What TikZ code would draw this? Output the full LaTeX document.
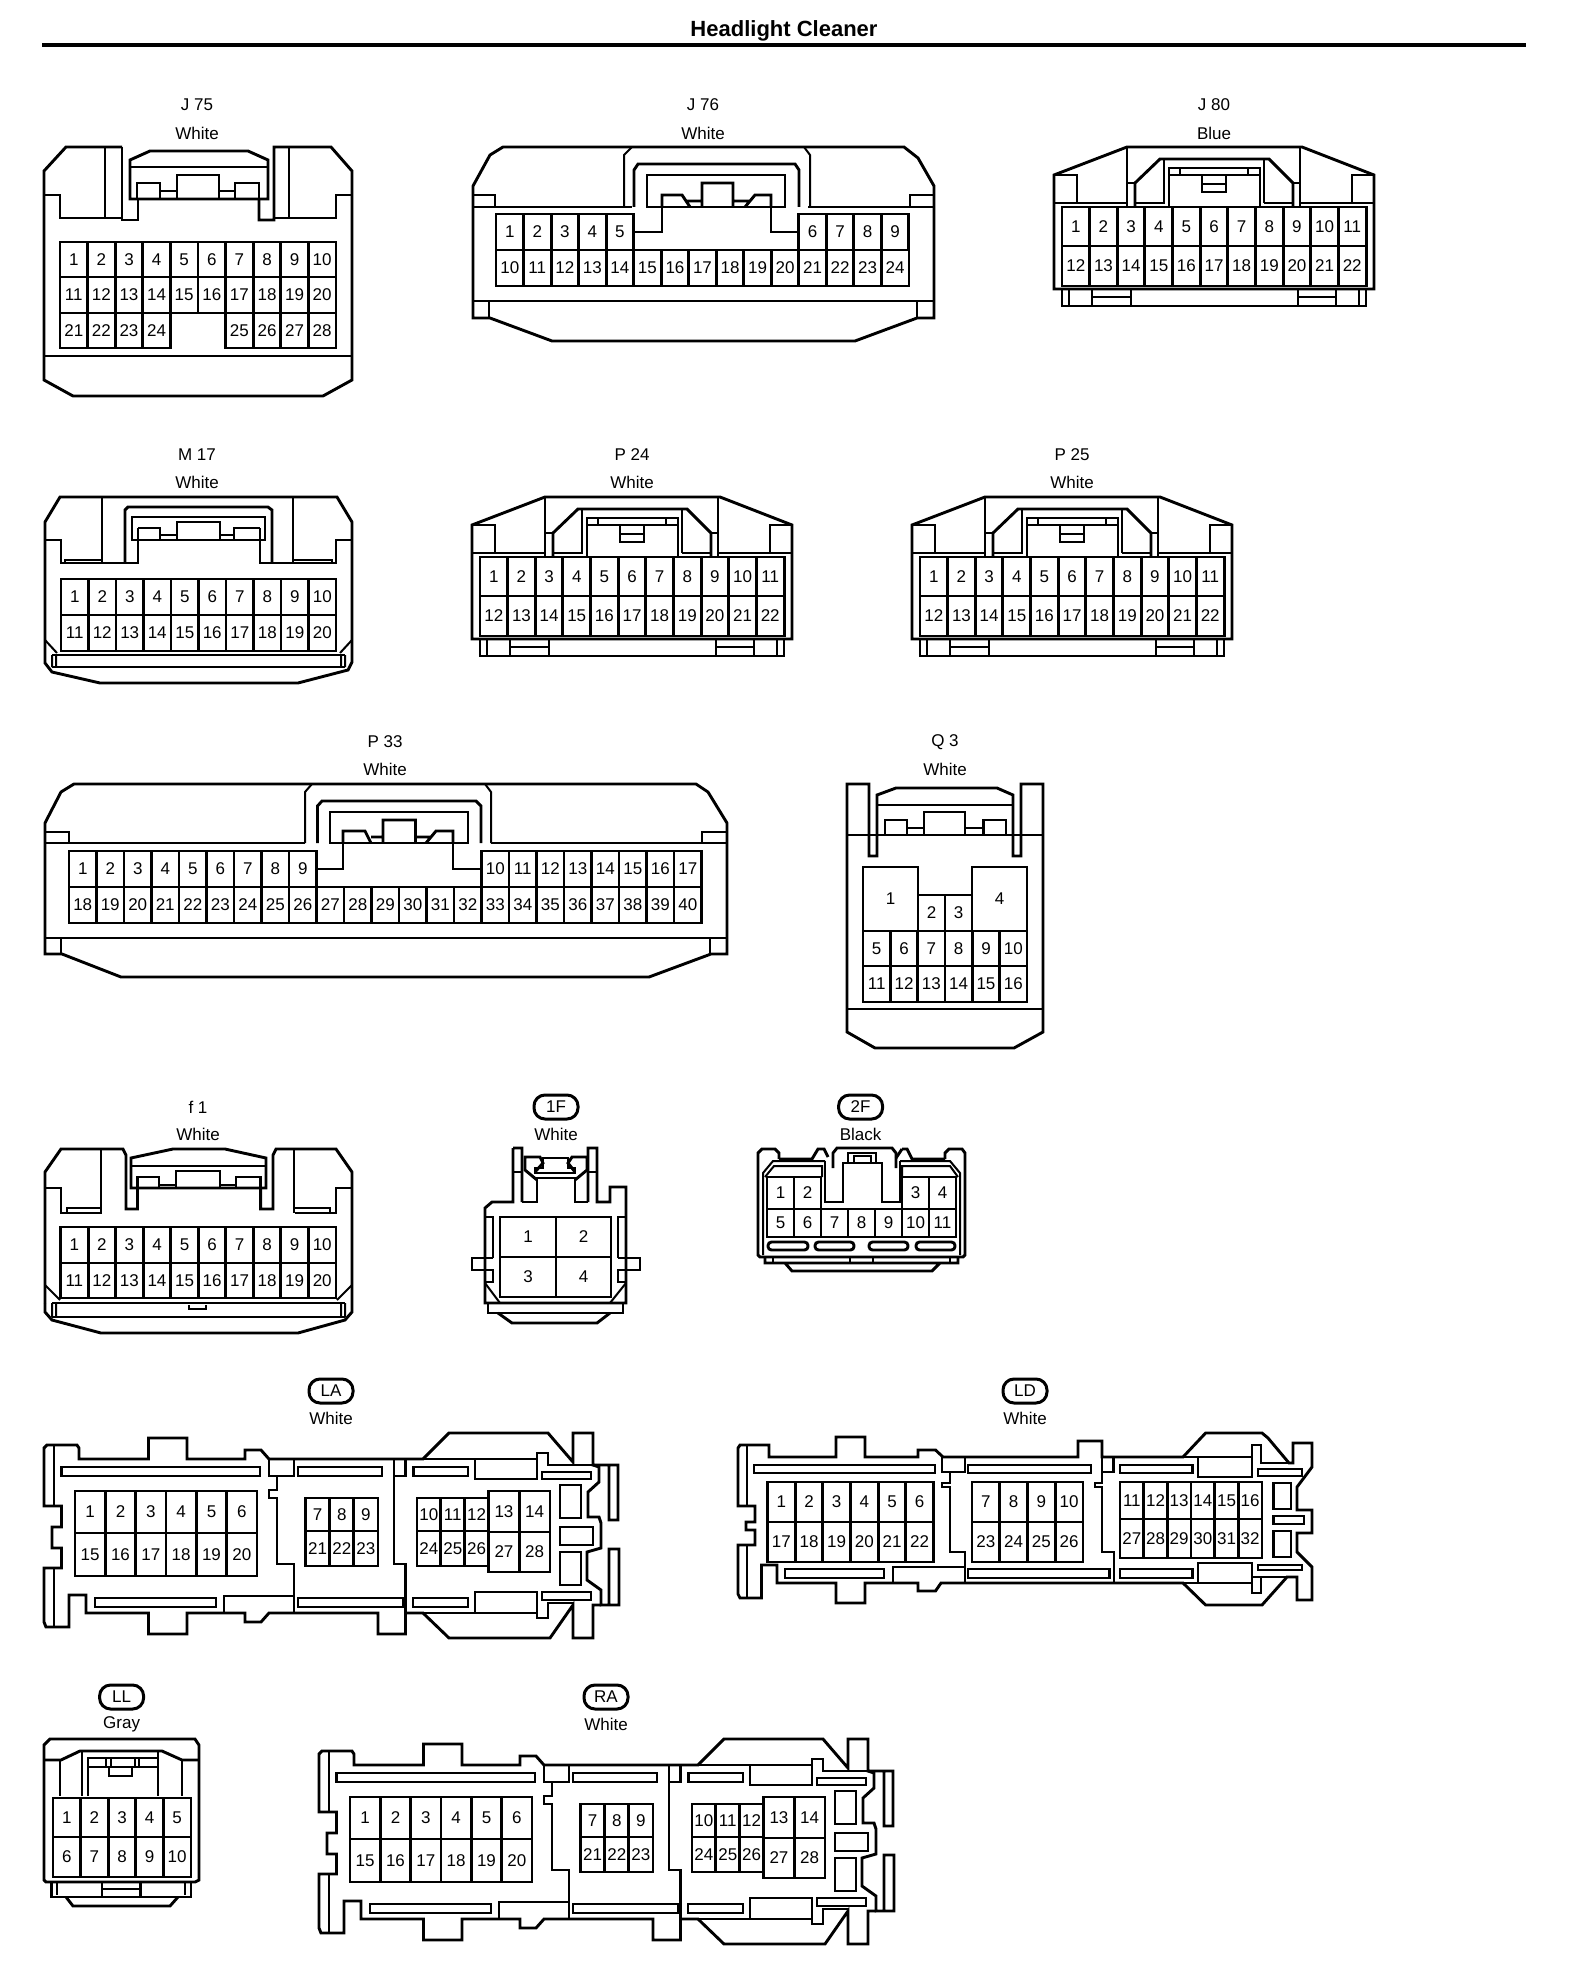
\documentclass[tikz,border=0pt]{standalone}
\usepackage{fontspec}
\setmainfont{Liberation Sans}
\tikzset{
 ol/.style={line width=2.9pt,line join=miter,line cap=butt,black},
 th/.style={line width=2pt,black},
 pinbox/.style={line width=2.9pt,black},
 pinnum/.style={inner sep=0pt,font=\fontsize{17}{17}\selectfont},
 lab/.style={inner sep=0pt,font=\fontsize{17}{17}\selectfont},
 tagoval/.style={draw,line width=3pt,rounded corners=11pt,minimum width=44pt,minimum height=24pt,inner sep=0pt,font=\fontsize{17}{17}\selectfont},
}
% prefix, x0, pitch, y1, y2, first number, count
\newcommand{\pins}[7]{%
 \foreach \i in {1,...,#7}{%
  \pgfmathsetmacro\xa{#2+(\i-1)*#3}%
  \pgfmathsetmacro\xb{\xa+#3}%
  \pgfmathsetmacro\xm{\xa+#3/2}%
  \pgfmathsetmacro\ym{(#4+#5)/2}%
  \pgfmathtruncatemacro\nn{#6+\i-1}%
  \draw[pinbox] (\xa,#4) rectangle (\xb,#5);
  \node[pinnum] (#1-\nn) at (\xm,\ym) {\nn};
 }}
% single pin: name, x1,y1,x2,y2,text
\newcommand{\onepin}[6]{%
  \pgfmathsetmacro\xm{(#2+#4)/2}\pgfmathsetmacro\ym{(#3+#5)/2}%
  \draw[pinbox] (#2,#3) rectangle (#4,#5);
  \node[pinnum] (#1) at (\xm,\ym) {#6};}
% J80-type connector
\newcommand{\typeA}[1]{%
 \draw[ol] (1054,175)--(1127,147)--(1302,147)--(1374,175)--(1374,289)--(1054,289)--cycle;
 \draw[ol] (1062,289)--(1062,306)--(1366,306)--(1366,289);
 \draw[th] (1069,289)--(1069,306) (1359,289)--(1359,306);
 \draw[ol] (1092,289)--(1092,306) (1131,289)--(1131,306) (1298,289)--(1298,306) (1336,289)--(1336,306);
 \draw[ol] (1092,297)--(1131,297) (1298,297)--(1336,297);
 \draw[ol] (1054,175)--(1077,175)--(1077,203) (1374,175)--(1352,175)--(1352,203);
 \draw[ol] (1054,203)--(1127,203) (1301,203)--(1374,203);
 \draw[ol] (1127,147)--(1127,207) (1300,147)--(1300,207);
 \draw[ol] (1135,207)--(1135,183)--(1160,159)--(1269,159)--(1293,183)--(1293,207);
 \draw[ol] (1127,183)--(1135,183) (1293,183)--(1300,183);
 \draw[ol] (1164,159)--(1164,203) (1264,159)--(1264,203);
 \draw[ol] (1169,168)--(1260,168)--(1260,207)--(1169,207)--cycle;
 \draw[ol] (1169,175)--(1260,175) (1180,168)--(1180,175) (1248,168)--(1248,175);
 \draw[ol] (1202,175)--(1202,192)--(1226,192)--(1226,175) (1202,184)--(1226,184);
 \draw[ol] (1135,203)--(1165,203) (1264,203)--(1293,203);
}
% LA/RA-type housing
\newcommand{\typeB}{%
 \draw[ol] (44,1448)--(47,1445)--(77,1445)--(79,1448)--(79,1459)--(148.5,1459)--(148.5,1438)--(187,1438)--(187,1459)--(245,1459)--(245,1450)--(261,1450)--(269,1459)--(423,1459)--(449,1433)--(548,1433)--(554,1440)--(573,1462)--(573,1433)--(593,1433)--(593,1465)--(609,1465)--(618,1465)--(618,1520)--(609,1520)--(609,1465);
 \draw[ol] (593,1465)--(599,1467)--(599,1482)--(588,1492)--(588,1517)--(599,1517)--(601,1523)--(601,1548)--(587,1552)--(587,1580)--(601,1590)--(601,1605)--(619,1605)--(619,1549)--(609,1549)--(609,1605);
 \draw[ol] (601,1605)--(593,1605)--(593,1638)--(573,1638)--(573,1605)--(550,1638)--(449,1638)--(423,1613)--(405.5,1613)--(405.5,1634)--(378,1634)--(378,1613)--(269,1613)--(261,1622)--(245,1622)--(245,1613)--(187,1613)--(187,1634)--(148.5,1634)--(148.5,1613)--(86,1613)--(86,1595)--(69,1595)--(69,1627)--(46,1627)--(44,1622)--(44,1568)--(61.5,1568)--(61.5,1548)--(52,1548)--(52,1527)--(61.5,1527)--(61.5,1506)--(44,1506)--(44,1447);
 \draw[ol] (423,1459)--(537,1459) (423,1613)--(537,1613);
 \draw[th] (54,1446)--(54,1506) (54,1568)--(54,1627);
 \draw[ol] (61.5,1467) rectangle (260,1476) (298,1467) rectangle (382,1476) (413.5,1467) rectangle (468,1476) (542,1472) rectangle (591,1479);
 \draw[ol] (475,1459)--(475,1479)--(537,1479)--(537,1459);
 \draw[ol] (537,1459)--(537,1453)--(548,1453)--(548,1465)--(593,1465);
 \draw[ol] (269,1459)--(269,1476)--(294,1476)--(294,1459);
 \draw[ol] (277,1476)--(277,1490)--(269,1490)--(269,1498)--(277,1498)--(277,1564)--(294,1564)--(294,1613);
 \draw[ol] (394,1459)--(394,1564)--(405.5,1564)--(405.5,1613);
 \draw[ol] (394,1476)--(405.5,1476)--(405.5,1459);
 \draw[ol] (95,1598) rectangle (216,1607) (298,1598) rectangle (403,1607) (413,1598) rectangle (468,1607) (542,1592) rectangle (591,1600);
 \draw[ol] (224,1613)--(224,1596)--(294,1596);
 \draw[ol] (475,1613)--(475,1592)--(537,1592)--(537,1613);
 \draw[ol] (537,1613)--(537,1618)--(548,1618)--(548,1603)--(574,1603);
 \draw[ol] (560,1485) rectangle (581,1518) (560,1527) rectangle (593,1545) (560,1552) rectangle (581,1585);
}
\begin{document}
\begin{tikzpicture}[x=1pt,y=-1pt]
\useasboundingbox (0,0) rectangle (1568,1964);
\fill[white] (0,0) rectangle (1568,1964);
\node[inner sep=0pt,font=\fontsize{22}{22}\selectfont\bfseries] (title) at (784,31) {Headlight Cleaner};
\coordinate (rulea) at (42,45); \coordinate (ruleb) at (1526,45);
\draw[line width=3.4pt] (rulea)--(ruleb);

%% J75
\node[lab] (j75a) at (197,105) {J 75}; \node[lab] (j75b) at (197,133) {White};
\draw[ol] (122,147)--(66,147)--(44,171)--(44,380)--(73,396)--(323,396)--(352,380)--(352,171)--(331,147)--(274,147)--(274,220)--(259,220)--(259,199);
\draw[ol] (122,147)--(122,220)--(138,220)--(138,199);
\draw[th] (105,147)--(105,218) (289,147)--(289,218);
\draw[ol] (44,195)--(60,195)--(60,218)--(122,218) (352,195)--(336,195)--(336,218)--(274,218);
\draw[ol] (130,199)--(130,160)--(150,151)--(248,151)--(268,160)--(268,199)--cycle;
\draw[ol] (130,167)--(268,167);
\draw[ol] (137,199)--(137,183)--(160,183)--(160,199) (160,191)--(177,191) (177,199)--(177,175)--(219,175)--(219,199) (219,191)--(235,191) (235,199)--(235,183)--(259,183)--(259,199);
\draw[ol] (44,356)--(352,356);
\pins{j75}{60}{27.6}{242}{277}{1}{10}
\pins{j75}{60}{27.6}{277}{313}{11}{10}
\pins{j75}{60}{27.6}{313}{348}{21}{4}
\pins{j75}{225.6}{27.6}{313}{348}{25}{4}

%% J76
\node[lab] (j76a) at (703,105) {J 76}; \node[lab] (j76b) at (703,133) {White};
\draw[ol] (473,318)--(473,186)--(490,155)--(503,147)--(904,147)--(918,158)--(934,186)--(934,318)--(917,318)--(855,341)--(552,341)--(490,318)--cycle;
\draw[ol] (473,301)--(934,301) (489,301)--(489,318) (917,301)--(917,318);
\draw[ol] (473,207)--(632,207) (808,207)--(934,207);
\draw[ol] (473,195)--(495,195)--(495,207) (934,195)--(910,195)--(910,207);
\draw[th] (624,207)--(624,155)--(632,147) (810,207)--(810,155)--(804,147);
\draw[ol] (634,207)--(634,170)--(638,164)--(795,164)--(799,170)--(799,207);
\draw[ol] (647,175)--(785,175)--(785,207)--(647,207)--cycle;
\draw[ol] (662,207)--(662,195)--(682,195)--(690,207) (686,201)--(702,201) (702,207)--(702,183)--(733,183)--(733,207) (733,201)--(750,201) (745,207)--(755,195)--(771,195)--(771,207);
\draw[ol] (662,207)--(662,232)--(635,232) (771,207)--(771,232)--(800,232);
\pins{j76}{496}{27.53}{214}{250}{1}{5}
\pins{j76}{798.8}{27.53}{214}{250}{6}{4}
\pins{j76}{496}{27.53}{250}{286}{10}{15}

%% J80
\node[lab] (j80a) at (1214,105) {J 80}; \node[lab] (j80b) at (1214,133) {Blue};
\typeA{}
\pins{j80}{1062}{27.64}{207}{246}{1}{11}
\pins{j80}{1062}{27.64}{246}{286}{12}{11}

%% M17
\node[lab] (m17a) at (197,455) {M 17}; \node[lab] (m17b) at (197,482) {White};
\draw[ol] (45,640)--(45,522)--(60,497)--(337,497)--(352,522)--(352,662)--(348,670)--(298,683)--(100,683)--(52,672)--(45,663)--cycle;
\draw[ol] (45,540)--(61,540)--(61,563)--(138,563)--(138,528) (352,540)--(336,540)--(336,563)--(260,563)--(260,528);
\draw[th] (102,497)--(102,563) (293,497)--(293,563);
\draw[ol] (125,563)--(125,510)--(128,507)--(268,507)--(272,510)--(272,563);
\draw[ol] (132,517)--(265,517)--(265,540)--(132,540)--cycle;
\draw[ol] (138,528)--(160,528)--(160,540) (160,535)--(177,535) (177,540)--(177,522)--(220,522)--(220,540) (220,535)--(234,535) (234,540)--(234,528)--(260,528);
\draw[th] (65,563)--(65,560)--(102,560) (293,560)--(332,560)--(332,563);
\pins{m17}{61}{27.5}{579}{615}{1}{10}
\pins{m17}{61}{27.5}{615}{651}{11}{10}
\draw[ol] (52,655)--(345,655) (52,667)--(345,667);
\draw[th] (45,640)--(57,653) (352,640)--(340,653) (52,655)--(52,667) (56,655)--(56,667) (341,655)--(341,667) (345,655)--(345,667);

%% P24 / P25
\node[lab] (p24a) at (632,455) {P 24}; \node[lab] (p24b) at (632,482) {White};
\begin{scope}[shift={(-582,350)}]
\typeA{}
\pins{p24}{1062}{27.64}{207}{246}{1}{11}
\pins{p24}{1062}{27.64}{246}{286}{12}{11}
\end{scope}
\node[lab] (p25a) at (1072,455) {P 25}; \node[lab] (p25b) at (1072,482) {White};
\begin{scope}[shift={(-142,350)}]
\typeA{}
\pins{p25}{1062}{27.64}{207}{246}{1}{11}
\pins{p25}{1062}{27.64}{246}{286}{12}{11}
\end{scope}

%% P33
\node[lab] (p33a) at (385,742) {P 33}; \node[lab] (p33b) at (385,769) {White};
\draw[ol] (45,954)--(45,823)--(61,792)--(74,784)--(696,784)--(708,792)--(727,823)--(727,954)--(711,954)--(649,977)--(121,977)--(62,954)--cycle;
\draw[ol] (45,938)--(727,938) (61,938)--(61,954) (710,938)--(710,954);
\draw[ol] (45,843)--(305,843) (491,843)--(727,843);
\draw[ol] (45,832)--(69,832)--(69,843) (727,832)--(702,832)--(702,843);
\draw[th] (305,843)--(305,792)--(312,784) (491,843)--(491,792)--(485,784);
\draw[ol] (317.5,843)--(317.5,806)--(322,801)--(476,801)--(481,806)--(481,843);
\draw[ol] (330,812)--(468,812)--(468,843)--(330,843)--cycle;
\draw[ol] (343,843)--(343,831)--(365,831)--(371,843) (371,837)--(383,837) (383,843)--(383,820)--(415.5,820)--(415.5,843) (415.5,837)--(430,837) (426,843)--(436,831)--(453,831)--(453,843);
\draw[ol] (343,843)--(343,869)--(317.5,869) (453,843)--(453,869)--(481,869);
\pins{p33}{69}{27.5}{851}{887}{1}{9}
\pins{p33}{481.5}{27.5}{851}{887}{10}{8}
\pins{p33}{69}{27.5}{887}{923}{18}{23}

%% Q3
\node[lab] (q3a) at (945,742) {Q 3}; \node[lab] (q3b) at (945,769) {White};
\draw[ol] (869,784)--(847,784)--(847,1032)--(875,1048)--(1014,1048)--(1043,1032)--(1043,784)--(1021,784)--(1021,856)--(1013,856)--(1013,795)--(997,788)--(896,788)--(877,795)--(877,856)--(869,856)--cycle;
\draw[ol] (877,805)--(1013,805) (847,835)--(1043,835);
\draw[ol] (885,835)--(885,820)--(907,820)--(907,835) (907,828)--(924,828) (924,835)--(924,812)--(965,812)--(965,835) (965,828)--(983.5,828) (983.5,835)--(983.5,820)--(1006,820)--(1006,835);
\draw[ol] (847,1009)--(1043,1009);
\onepin{q3-1}{863}{867}{918}{931}{1}
\onepin{q3-4}{972}{867}{1027}{931}{4}
\onepin{q3-2}{918}{895}{945}{931}{2}
\onepin{q3-3}{945}{895}{972}{931}{3}
\pins{q3}{863}{27.33}{931}{966}{5}{6}
\pins{q3}{863}{27.33}{966}{1002}{11}{6}

%% f1
\node[lab] (f1a) at (198,1107) {f 1}; \node[lab] (f1b) at (198,1134) {White};
\draw[ol] (45,1303)--(45,1172)--(61,1149)--(123,1149)--(126,1155)--(126,1209)--(137.5,1209)--(137.5,1188);
\draw[ol] (260.6,1188)--(260.6,1209)--(273,1209)--(273,1155)--(276,1149)--(336,1149)--(352,1172)--(352,1312)--(345,1320)--(298,1333)--(101,1333)--(52,1320)--(45,1312)--(45,1303);
\draw[ol] (45,1188)--(61,1188)--(61,1213)--(102,1213) (352,1188)--(336,1188)--(336,1213)--(295,1213);
\draw[th] (101,1149)--(101,1213) (294,1149)--(294,1213);
\draw[ol] (131,1158)--(173,1149)--(225,1149)--(266,1158)--(266,1188)--(131,1188)--cycle;
\draw[ol] (131,1166)--(266,1166);
\draw[ol] (137.5,1188)--(137.5,1177)--(159,1177)--(159,1188) (159,1185)--(176,1185) (176,1188)--(176,1171)--(220,1171)--(220,1188) (220,1185)--(236,1185) (236,1188)--(236,1177)--(260.6,1177)--(260.6,1188);
\draw[th] (67,1213)--(67,1208)--(102,1208) (295,1208)--(330,1208)--(330,1213);
\pins{f1}{60.6}{27.54}{1227}{1263}{1}{10}
\pins{f1}{60.6}{27.54}{1263}{1298}{11}{10}
\draw[ol] (52,1303)--(345,1303) (52,1317)--(345,1317);
\draw[th] (45,1285)--(60,1300) (352,1285)--(337,1300) (52,1303)--(52,1317) (56,1303)--(56,1317) (341,1303)--(341,1317) (345,1303)--(345,1317);
\draw[th] (189,1305)--(189,1309)--(206,1309)--(206,1305);

%% 1F
\node[tagoval] (t1f) at (556,1107) {1F}; \node[lab] (l1f) at (556,1134) {White};
\draw[ol] (513,1148)--(522,1148)--(522,1202) (513,1148)--(513,1202)--(492,1202)--(485,1208)--(485,1303)--(626,1303)--(626,1187)--(610,1187)--(610,1202)--(597,1202)--(597,1148)--(588,1148)--(588,1202);
\draw[ol] (522,1202)--(537,1202)--(537,1178)--(575,1178)--(575,1202)--(588,1202);
\draw[ol] (513,1172)--(522,1172) (588,1172)--(597,1172);
\draw[ol] (537,1180)--(525,1170)--(525,1157)--(540,1157)--(543,1163)--(535,1172);
\draw[ol] (575,1180)--(587,1170)--(587,1157)--(572,1157)--(568,1163)--(575,1172);
\draw[ol] (543,1168)--(543,1158)--(568,1158)--(568,1168)--(575,1168)--(575,1173)--(535,1173)--(535,1168)--cycle;
\draw[ol] (485,1217)--(493,1217)--(493,1258) (626,1217)--(618,1217)--(618,1258);
\draw[ol] (493,1258)--(472,1258)--(472,1270)--(493,1270)--(493,1282)--(485,1282) (618,1258)--(640,1258)--(640,1270)--(618,1270)--(618,1282)--(626,1282);
\draw[th] (485,1283)--(500,1303) (626,1283)--(610,1303);
\draw[ol] (488,1303)--(488,1313)--(623,1313)--(623,1303);
\draw[ol] (498,1313)--(512,1323)--(597,1323)--(610,1313);
\onepin{f1f-1}{500}{1217}{556}{1257}{1}
\onepin{f1f-2}{556}{1217}{611}{1257}{2}
\onepin{f1f-3}{500}{1257}{556}{1297}{3}
\onepin{f1f-4}{556}{1257}{611}{1297}{4}

%% 2F
\node[tagoval] (t2f) at (860.6,1107) {2F}; \node[lab] (l2f) at (860.6,1134) {Black};
\draw[ol] (779,1159)--(779,1153)--(775,1149)--(762,1149)--(758,1153)--(758,1255)--(760,1257)--(963,1257)--(965,1255)--(965,1153)--(962,1149)--(949,1149)--(945,1153)--(945,1159);
\draw[ol] (779,1159)--(812,1159)--(818,1149)--(824,1149)--(828,1157) (902,1149)--(907,1149)--(912,1159)--(945,1159) (896,1158)--(902,1149);
\draw[ol] (833,1168)--(833,1153)--(837,1148)--(892,1148)--(896,1153)--(896,1168);
\draw[th] (763,1255)--(763,1173)--(773,1161)--(825,1161) (960,1255)--(960,1173)--(950,1161)--(900,1161);
\draw[th] (765,1177)--(774,1166)--(822,1166)--(822,1177) (958,1177)--(950,1166)--(902,1166)--(902,1177);
\draw[ol] (825,1161)--(825,1202)--(843,1202)--(843,1163)--(882,1163)--(882,1202)--(900,1202)--(900,1161);
\draw[ol] (848,1153) rectangle (876,1163);
\draw[th] (854,1156) rectangle (871,1163);
\pins{f2}{767}{27}{1177}{1209}{1}{2}
\pins{f2}{902}{27}{1177}{1209}{3}{2}
\pins{f2}{767}{27}{1209}{1237}{5}{7}
\draw[ol,rounded corners=3.5pt] (768,1242) rectangle (808,1250) (815,1242) rectangle (854,1250) (869,1242) rectangle (908,1250) (916,1242) rectangle (955,1250);
\draw[ol] (765,1257)--(765,1263)--(958,1263)--(958,1257) (785,1263)--(792,1271)--(932,1271)--(940,1263);
\draw[th] (773,1257)--(773,1263) (950,1257)--(950,1263) (850,1257)--(850,1263) (873,1257)--(873,1263);

%% LA
\node[tagoval] (tla) at (331,1391) {LA}; \node[lab] (lla) at (331,1418) {White};
\typeB
\pins{la}{75}{30.33}{1491}{1533}{1}{6}
\pins{la}{75}{30.33}{1533}{1576}{15}{6}
\pins{la}{305.5}{24.17}{1498}{1531}{7}{3}
\pins{la}{305.5}{24.17}{1531}{1566}{21}{3}
\pins{la}{417}{23.87}{1498}{1531}{10}{3}
\pins{la}{417}{23.87}{1531}{1566}{24}{3}
\pins{la}{488.6}{30.7}{1491}{1532}{13}{2}
\pins{la}{488.6}{30.7}{1532}{1572}{27}{2}

%% RA
\node[tagoval] (tra) at (606,1697) {RA}; \node[lab] (lra) at (606,1724) {White};
\begin{scope}[shift={(275,306)}]
\typeB
\pins{ra}{75}{30.33}{1491}{1533}{1}{6}
\pins{ra}{75}{30.33}{1533}{1576}{15}{6}
\pins{ra}{305.5}{24.17}{1498}{1531}{7}{3}
\pins{ra}{305.5}{24.17}{1531}{1566}{21}{3}
\pins{ra}{417}{23.87}{1498}{1531}{10}{3}
\pins{ra}{417}{23.87}{1531}{1566}{24}{3}
\pins{ra}{488.6}{30.7}{1491}{1532}{13}{2}
\pins{ra}{488.6}{30.7}{1532}{1572}{27}{2}
\end{scope}

%% LD
\node[tagoval] (tld) at (1025,1391) {LD}; \node[lab] (lld) at (1025,1418) {White};
\draw[ol] (738,1448)--(740,1445)--(769,1445)--(769,1457)--(836,1457)--(836,1437)--(865,1437)--(865,1457)--(918,1457)--(918,1450)--(935.5,1450)--(943,1457)--(1078,1457)--(1078,1441)--(1102,1441)--(1102,1457)--(1183,1457)--(1205.6,1433)--(1262,1433)--(1268,1438)--(1289,1463)--(1293,1463)--(1293,1443)--(1312,1443)--(1312,1467)--(1297,1487)--(1297,1510)--(1312,1510)--(1312,1533)--(1297,1533)--(1297,1552)--(1312,1567)--(1312,1600)--(1297,1600)--(1297,1577)--(1287,1577)--(1262,1605)--(1205.6,1605)--(1183,1583)--(941,1583)--(935.5,1591)--(918,1591)--(918,1583)--(865,1583)--(865,1603)--(836,1603)--(836,1583)--(777,1583)--(777,1565)--(761.5,1565)--(761.5,1598)--(740,1598)--(738,1594)--(738,1545)--(755,1545)--(755,1530)--(746,1530)--(746,1522)--(755,1522)--(755,1506)--(738,1506)--cycle;
\draw[ol] (1183,1457)--(1252,1457) (1183,1583)--(1252,1583);
\draw[th] (747,1445)--(747,1506) (747,1545)--(747,1598);
\draw[ol] (754,1465) rectangle (935,1473) (968,1465) rectangle (1091,1473) (1120,1465) rectangle (1192.5,1473) (1258,1469) rectangle (1302,1476);
\draw[ol] (1198,1457)--(1198,1477)--(1252,1477)--(1252,1457);
\draw[ol] (1252,1457)--(1252,1445)--(1261,1445)--(1261,1463)--(1293,1463);
\draw[ol] (942,1457)--(942,1472)--(965,1472)--(965,1457);
\draw[ol] (950,1472)--(950,1483)--(942,1483)--(942,1487)--(950,1487)--(950,1552)--(965,1552)--(965,1583);
\draw[ol] (1113.5,1457)--(1113.5,1472)--(1102,1472)--(1102,1457);
\draw[ol] (1102,1472)--(1102,1483)--(1095,1483)--(1095,1487)--(1102,1487)--(1102,1552)--(1114,1552)--(1114,1583);
\draw[ol] (785,1569) rectangle (884,1578) (968,1569) rectangle (1109.5,1578) (1120,1569) rectangle (1192.5,1578) (1258,1565) rectangle (1302,1570);
\draw[ol] (893,1583)--(893,1567)--(964,1567);
\draw[ol] (1198,1583)--(1198,1563)--(1252,1563)--(1252,1583);
\draw[ol] (1252,1577)--(1287,1577) (1252,1583)--(1252,1593)--(1261,1593)--(1261,1577);
\draw[ol] (1273.6,1483) rectangle (1291,1509) (1273.6,1516) rectangle (1304,1524) (1273.6,1531) rectangle (1291,1557);
\pins{ld}{767.5}{27.67}{1482}{1522}{1}{6}
\pins{ld}{767.5}{27.67}{1522}{1562}{17}{6}
\pins{ld}{972}{27.75}{1482}{1522}{7}{4}
\pins{ld}{972}{27.75}{1522}{1562}{23}{4}
\pins{ld}{1120}{23.67}{1482}{1519}{11}{6}
\pins{ld}{1120}{23.67}{1519}{1558}{27}{6}

%% LL
\node[tagoval] (tll) at (121.6,1697) {LL}; \node[lab] (lll) at (121.6,1724) {Gray};
\draw[ol] (44,1745)--(50,1739)--(195,1739)--(199,1745)--(199,1880)--(195,1882)--(46,1882)--(44,1880)--cycle;
\draw[ol] (44,1760)--(61,1760)--(80,1751)--(162,1751)--(182,1760)--(199,1760);
\draw[ol] (60,1760)--(60,1796) (82,1751)--(82,1796) (158,1751)--(158,1796) (182,1760)--(182,1796);
\draw[ol] (88,1796)--(88,1758)--(157,1758);
\draw[ol] (88,1767)--(157,1767);
\draw[th] (106,1758)--(106,1767) (111,1758)--(111,1767) (135,1758)--(135,1767) (139,1758)--(139,1767);
\draw[ol] (109,1767)--(109,1776)--(132,1776)--(132,1767);
\pins{ll}{53}{27.6}{1798}{1837}{1}{5}
\pins{ll}{53}{27.6}{1837}{1877}{6}{5}
\draw[ol] (51.6,1882)--(51.6,1897)--(191,1897)--(191,1882);
\draw[th] (57,1882)--(57,1895) (185,1882)--(185,1895);
\draw[ol] (102,1882)--(102,1897) (140.5,1882)--(140.5,1897) (102,1889)--(140.5,1889);
\draw[ol] (66,1897)--(73,1906)--(170,1906)--(178,1897);
\end{tikzpicture}
\end{document}
